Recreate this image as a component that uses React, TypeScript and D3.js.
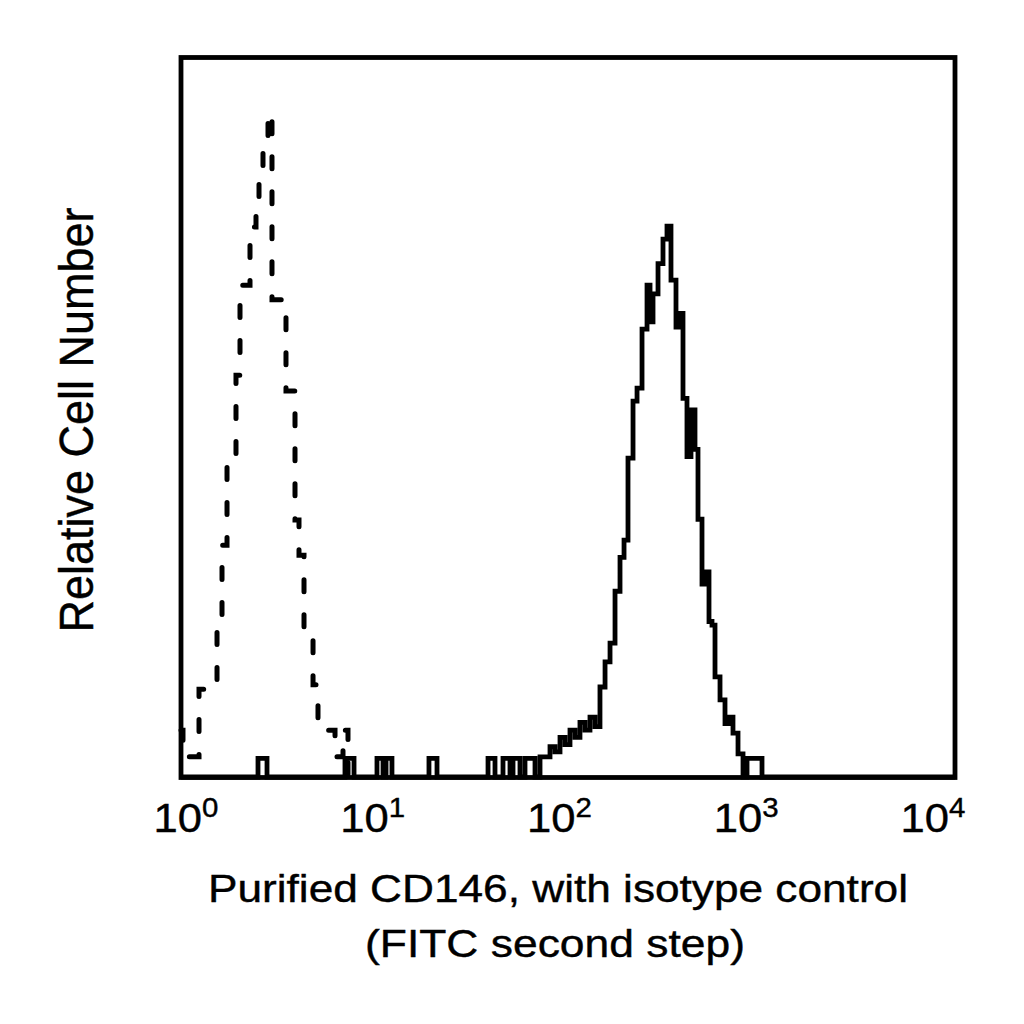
import React from "react";
import * as d3 from "d3";

// X-axis decades (10^n)
const decadeExponents = [0, 1, 2, 3, 4];

// Isotype control (dashed) histogram: step left edges (intensity) and counts
const isotypeIntensity = [1.0, 1.024, 1.239, 1.535, 1.629, 1.729, 1.924, 2.018, 2.273, 2.441, 2.53, 2.653, 2.816, 2.953, 3.488, 3.883, 4.072, 4.322, 4.812, 5.105, 6.251, 6.874, 7.295];
const isotypeCount = [6.5, 2.8, 12.2, 20.1, 32.2, 43.8, 55.8, 68.3, 76.4, 79.4, 83.3, 86.8, 92.2, 66.3, 53.6, 35.7, 30.8, 20.4, 12.8, 6.5, 2.8, 6.5, 0];

// Purified CD146 (solid) histogram: step left edges (intensity) and counts
const cd146Intensity = [1.0, 2.5, 2.783, 7.038, 7.838, 10.3, 11.07, 11.47, 12.31, 19.12, 21.04, 38.61, 41.95, 46.14, 50.15, 51.98, 56.48, 59.95, 67.53, 71.68, 80.72, 85.66, 90.93, 96.48, 102.4, 108.7, 115.3, 122.4, 129.9, 137.9, 146.3, 155.4, 164.9, 175.0, 185.7, 194.8, 204.2, 216.8, 227.4, 241.3, 256.1, 265.4, 275.0, 291.9, 309.7, 324.8, 340.6, 361.5, 374.6, 392.9, 412.0, 432.1, 453.2, 469.7, 492.6, 510.5, 535.4, 554.9, 575.1, 610.4, 647.7, 679.2, 712.3, 756.2, 802.6, 841.8, 1006, 10000];
const cd146Count = [0, 2.6, 0, 2.6, 0, 2.6, 0, 2.6, 0, 2.6, 0, 2.6, 0, 2.6, 0, 2.6, 0, 2.6, 0, 2.8, 4.2, 3.5, 5.5, 4.5, 6.5, 5.5, 7.6, 6.5, 8.3, 7.0, 12.5, 16.0, 18.6, 25.8, 30.5, 32.9, 44.3, 52.2, 54.0, 62.2, 68.3, 63.2, 67.1, 71.3, 74.7, 76.5, 69.0, 62.5, 64.4, 52.6, 44.5, 51.0, 45.5, 35.8, 26.8, 28.5, 21.6, 21.1, 13.9, 10.7, 7.4, 8.3, 6.1, 3.2, 0, 2.6, 0, 0];

const xTitleLines = ["Purified CD146, with isotype control", "(FITC second step)"];
const yTitle = "Relative Cell Number";

const FONT = "'Liberation Sans', Arial, Helvetica, sans-serif";

export default function App() {
  const left = 181, right = 955, top = 57.5, bottom = 777.5;
  const x = d3.scaleLog().domain([1, 10000]).range([left, right]);
  const y = d3.scaleLinear().domain([0, 100]).range([777, 57]);
  const labelX = d3.scaleLinear().domain([0, 4]).range([153.6, 900.4]);

  const line = d3
    .line<[number, number]>()
    .x((d) => x(d[0]))
    .y((d) => y(d[1]))
    .curve(d3.curveStepAfter);

  const isoPts = isotypeIntensity.map((v, i) => [v, isotypeCount[i]] as [number, number]);
  const cdPts = cd146Intensity.map((v, i) => [v, cd146Count[i]] as [number, number]);

  return (
    <svg
      width={1024}
      height={1024}
      viewBox="0 0 1024 1024"
      style={{ position: "absolute", left: 0, top: 0, background: "#fff" }}
    >
      <rect x={0} y={0} width={1024} height={1024} fill="#fff" />
      <path d={line(cdPts) || ""} fill="none" stroke="#000" strokeWidth={4.8} strokeLinejoin="miter" />
      <path
        d={line(isoPts) || ""}
        fill="none"
        stroke="#000"
        strokeWidth={5}
        strokeDasharray="12 23"
        strokeLinecap="round"
      />
      <rect
        x={left}
        y={top}
        width={right - left}
        height={bottom - top}
        fill="none"
        stroke="#000"
        strokeWidth={4.8}
      />
      {decadeExponents.map((e) => (
        <text
          key={e}
          transform={`translate(${labelX(e)},832) scale(1.09,1)`}
          fontFamily={FONT}
          fontSize={40}
          fill="#000"
          stroke="#000"
          strokeWidth={0.4}
        >
          10
          <tspan fontSize={27} dy={-15}>
            {e}
          </tspan>
        </text>
      ))}
      <text
        x={558}
        y={902}
        textAnchor="middle"
        fontFamily={FONT}
        fontSize={38}
        textLength={700}
        lengthAdjust="spacingAndGlyphs"
        stroke="#000"
        strokeWidth={0.4}
      >
        {xTitleLines[0]}
      </text>
      <text
        x={555}
        y={957}
        textAnchor="middle"
        fontFamily={FONT}
        fontSize={38}
        textLength={380}
        lengthAdjust="spacingAndGlyphs"
        stroke="#000"
        strokeWidth={0.4}
      >
        {xTitleLines[1]}
      </text>
      <text
        transform="translate(93,420) scale(1.08,1) rotate(-90)"
        textAnchor="middle"
        fontFamily={FONT}
        fontSize={45}
        stroke="#000"
        strokeWidth={0.4}
      >
        {yTitle}
      </text>
    </svg>
  );
}
